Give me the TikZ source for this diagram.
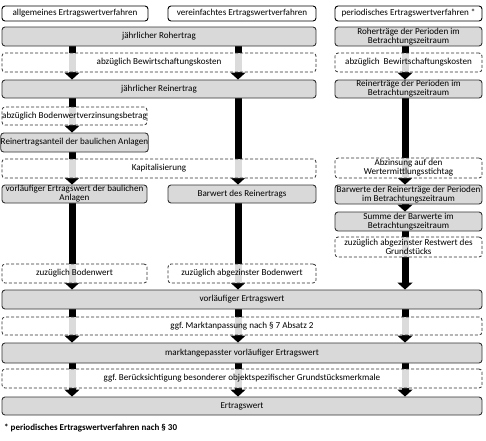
\documentclass[tikz,border=0pt]{standalone}
\usepackage{fontspec}
\setmainfont{Carlito}
\usetikzlibrary{arrows.meta}
\definecolor{boxgray}{RGB}{217,217,217}
\definecolor{edge}{RGB}{50,50,50}
\pgfdeclarelayer{arrowlayer}
\pgfsetlayers{arrowlayer,main}
\newcommand\bx[7]{%
 \pgfmathsetmacro\bw{#4-#3}\pgfmathsetmacro\bh{#6-#5}%
 \pgfmathsetmacro\bcx{(#3+#4)/2}\pgfmathsetmacro\bcy{(#5+#6)/2}%
 \node[#1, minimum width=\bw pt, minimum height=\bh pt] (#2) at (\bcx,\bcy) {#7};}
\begin{document}
\frenchspacing
\begin{tikzpicture}[x=1pt,y=-1pt,
  base/.style={rounded corners=3pt, inner sep=0pt, align=center, font=\fontsize{9.1}{8.8}\selectfont},
  solidbox/.style={base, draw=edge, line width=0.9pt, fill=boxgray},
  dashbox/.style={base, draw=edge, dash pattern=on 3pt off 2pt, line width=0.8pt, fill=white, fill opacity=0.86, text opacity=1},
  headbox/.style={base, draw=black, line width=0.9pt, fill=white},
  bigarrow/.style={line width=7pt, -{Triangle[width=15pt,length=7pt]}, black}
]
\useasboundingbox (0,0) rectangle (486,440);
% headers
\bx{headbox}{h1}{2}{148}{6}{21}{allgemeines Ertragswertverfahren}
\bx{headbox}{h2}{168}{316}{6}{21}{vereinfachtes Ertragswertverfahren}
\bx{headbox}{h3}{335}{482}{6}{21}{periodisches Ertragswertverfahren *}
% rows
\bx{solidbox}{a1}{2}{316}{27}{46}{jährlicher Rohertrag}
\bx{solidbox}{p1}{335}{482}{27}{46}{Roherträge der Perioden im\\Betrachtungszeitraum}
\bx{dashbox}{ad1}{2}{316}{53}{72}{abzüglich Bewirtschaftungskosten}
\bx{dashbox}{pd1}{335}{482}{53}{72}{abzüglich\ \ Bewirtschaftungskosten}
\bx{solidbox}{a2}{2}{316}{80}{98}{jährlicher Reinertrag}
\bx{solidbox}{p2}{335}{482}{80}{98}{Reinerträge der Perioden im\\Betrachtungszeitraum}
\bx{dashbox}{ad2}{2}{147}{107}{125}{abzüglich Bodenwertverzinsungsbetrag}
\bx{solidbox}{a3}{2}{147}{133}{152}{Reinertragsanteil der baulichen Anlagen}
\bx{dashbox}{ad3}{2}{316}{159}{178}{Kapitalisierung}
\bx{dashbox}{pd3}{335}{482}{158}{178}{Abzinsung auf den\\Wertermittlungsstichtag}
\bx{solidbox}{a4}{2}{147}{185}{203}{vorläufiger Ertragswert der baulichen\\Anlagen}
\bx{solidbox}{b4}{168}{316}{185}{203}{Barwert des Reinertrags}
\bx{solidbox}{p4}{335}{482}{185}{204}{Barwerte der Reinerträge der Perioden\\im Betrachtungszeitraum}
\bx{solidbox}{p5}{335}{482}{212}{231}{Summe der Barwerte im\\Betrachtungszeitraum}
\bx{dashbox}{pd5}{335}{482}{237}{257}{zuzüglich abgezinster Restwert des\\Grundstücks}
\bx{dashbox}{ad4}{2}{147}{264}{283}{zuzüglich Bodenwert}
\bx{dashbox}{bd4}{168}{316}{264}{283}{zuzüglich abgezinster Bodenwert}
\bx{solidbox}{v6}{2}{482}{290}{309}{vorläufiger Ertragswert}
\bx{dashbox}{vd6}{2}{482}{317}{335}{ggf. Marktanpassung nach § 7 Absatz 2}
\bx{solidbox}{v7}{2}{482}{343}{363}{marktangepasster vorläufiger Ertragswert}
\bx{dashbox}{vd7}{2}{482}{369}{388}{ggf. Berücksichtigung besonderer objektspezifischer Grundstücksmerkmale}
\bx{solidbox}{v8}{2}{482}{397}{415}{Ertragswert}
\node[anchor=west, inner sep=0pt, font=\bfseries\fontsize{9}{10}\selectfont] (fn) at (4,428) {* periodisches Ertragswertverfahren nach § 30};
% arrows
\coordinate (c1) at (72,0);
\coordinate (c2) at (238,0);
\coordinate (c3) at (405,0);
\begin{pgfonlayer}{arrowlayer}
\draw[bigarrow] (a1.south -| c1) -- (a2.north -| c1);
\draw[bigarrow] (a2.south -| c1) -- (a3.north -| c1);
\draw[bigarrow] (a3.south -| c1) -- (a4.north -| c1);
\draw[bigarrow] (a4.south -| c1) -- (v6.north -| c1);
\draw[bigarrow] (v6.south -| c1) -- (v7.north -| c1);
\draw[bigarrow] (v7.south -| c1) -- (v8.north -| c1);
\draw[bigarrow] (a1.south -| c2) -- (a2.north -| c2);
\draw[bigarrow] (a2.south -| c2) -- (b4.north -| c2);
\draw[bigarrow] (b4.south -| c2) -- (v6.north -| c2);
\draw[bigarrow] (v6.south -| c2) -- (v7.north -| c2);
\draw[bigarrow] (v7.south -| c2) -- (v8.north -| c2);
\draw[bigarrow] (p1.south -| c3) -- (p2.north -| c3);
\draw[bigarrow] (p2.south -| c3) -- (p4.north -| c3);
\draw[bigarrow] (p4.south -| c3) -- (p5.north -| c3);
\draw[bigarrow] (p5.south -| c3) -- (v6.north -| c3);
\draw[bigarrow] (v6.south -| c3) -- (v7.north -| c3);
\draw[bigarrow] (v7.south -| c3) -- (v8.north -| c3);
\end{pgfonlayer}
\end{tikzpicture}
\end{document}
